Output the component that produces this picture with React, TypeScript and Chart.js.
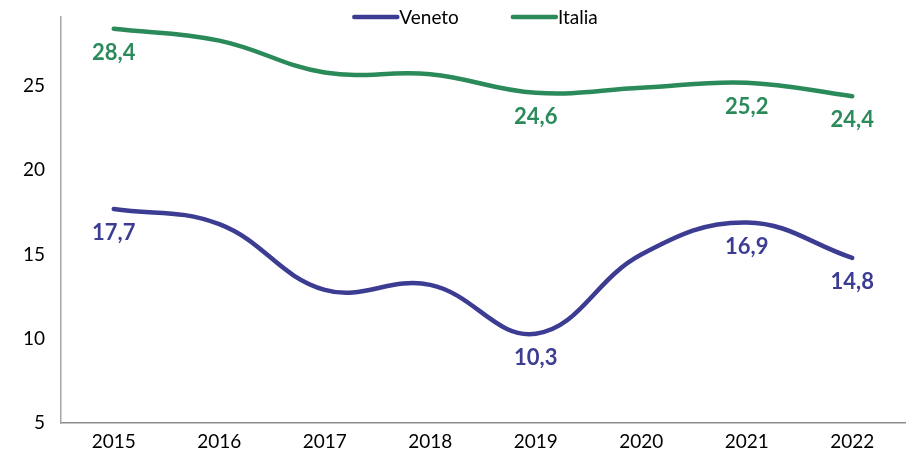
import React, { useEffect, useRef } from "react";
import { Chart, registerables } from "chart.js";

Chart.register(...registerables);

const years = ["2015", "2016", "2017", "2018", "2019", "2020", "2021", "2022"];
const veneto = [17.7, 16.8, 12.9, 13.2, 10.3, 15.0, 16.9, 14.8];
const italia = [28.4, 27.7, 25.8, 25.7, 24.6, 24.9, 25.2, 24.4];
const labelIdx = [0, 4, 6, 7];
const seriesNames = ["Veneto", "Italia"];
const colors = ["#3C3C93", "#2B8A5A"];
const FONT = "Lato, 'Open Sans', sans-serif";

const dataLabels = {
  id: "dataLabels",
  afterDatasetsDraw(chart: any) {
    const ctx = chart.ctx;
    ctx.save();
    ctx.font = `bold 22px ${FONT}`;
    ctx.textAlign = "center";
    ctx.textBaseline = "middle";
    chart.data.datasets.forEach((ds: any, di: number) => {
      const meta = chart.getDatasetMeta(di);
      ctx.fillStyle = ds.borderColor;
      labelIdx.forEach((i) => {
        const p = meta.data[i];
        const txt = ds.data[i].toFixed(1).replace(".", ",");
        ctx.fillText(txt, p.x, p.y + 24);
      });
    });
    ctx.restore();
  },
};

const topLegend = {
  id: "topLegend",
  afterDraw(chart: any) {
    const ctx = chart.ctx;
    ctx.save();
    ctx.font = `19px ${FONT}`;
    ctx.textBaseline = "middle";
    const lineW = 47;
    const spacing = 52;
    const items = chart.data.datasets.map((ds: any) => ({
      label: ds.label,
      color: ds.borderColor,
      w: lineW + ctx.measureText(ds.label).width,
    }));
    const total = items.reduce((s: number, it: any) => s + it.w, 0) + spacing * (items.length - 1);
    let x = chart.width / 2 - total / 2 + 21;
    const y = 17;
    items.forEach((it: any) => {
      ctx.strokeStyle = it.color;
      ctx.lineWidth = 4.5;
      ctx.lineCap = "round";
      ctx.beginPath();
      ctx.moveTo(x + 2, y);
      ctx.lineTo(x + lineW - 2, y);
      ctx.stroke();
      ctx.fillStyle = "#000";
      ctx.textAlign = "left";
      ctx.fillText(it.label, x + lineW, y + 1);
      x += it.w + spacing;
    });
    ctx.restore();
  },
};

export default function App() {
  const ref = useRef<HTMLCanvasElement>(null);
  useEffect(() => {
    if (!ref.current) return;
    const chart = new Chart(ref.current, {
      type: "line",
      data: {
        labels: years,
        datasets: [
          {
            label: seriesNames[0],
            data: veneto,
            borderColor: colors[0],
            backgroundColor: colors[0],
            borderWidth: 4.5,
            pointRadius: 0,
            tension: 0.4,
            borderCapStyle: "round",
          },
          {
            label: seriesNames[1],
            data: italia,
            borderColor: colors[1],
            backgroundColor: colors[1],
            borderWidth: 4.5,
            pointRadius: 0,
            tension: 0.4,
            borderCapStyle: "round",
          },
        ],
      },
      options: {
        responsive: false,
        animation: false,
        layout: { padding: { top: 17, right: 3, left: 0, bottom: 0 } },
        plugins: { legend: { display: false }, tooltip: { enabled: false } },
        scales: {
          x: {
            offset: true,
            grid: { display: false, drawTicks: false },
            border: { display: true, color: "#8C8C8C", width: 1.5 },
            ticks: { color: "#000", font: { family: FONT, size: 19 }, padding: 7 },
            afterFit(scale: any) {
              scale.height = 28;
              scale.paddingLeft = 0;
              scale.paddingRight = 0;
            },
          },
          y: {
            min: 5,
            max: 29.1,
            grid: { display: false, drawTicks: false },
            border: { display: true, color: "#A6A6A6", width: 1.5 },
            ticks: { stepSize: 5, color: "#000", font: { family: FONT, size: 19 }, padding: 16 },
            afterBuildTicks(scale: any) {
              scale.ticks = scale.ticks.filter((t: any) => t.value % 5 === 0 && t.value <= 25);
            },
            afterFit(scale: any) {
              scale.width = 61;
              scale.paddingTop = 0;
              scale.paddingBottom = 0;
            },
          },
        },
      },
      plugins: [dataLabels, topLegend],
    });
    return () => chart.destroy();
  }, []);
  return (
    <div style={{ position: "fixed", left: 0, top: 0, width: 908, height: 451, background: "#fff" }}>
      <canvas ref={ref} width={908} height={451} style={{ width: 908, height: 451 }} />
    </div>
  );
}
